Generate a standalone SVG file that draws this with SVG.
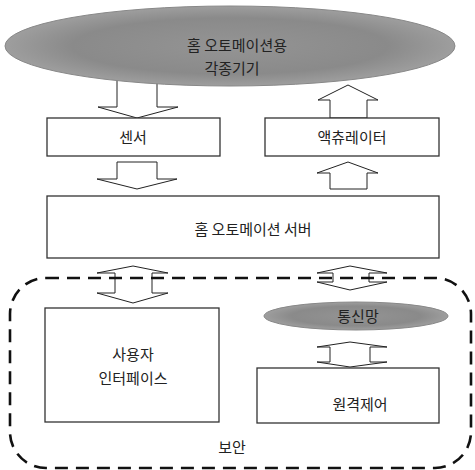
<svg xmlns="http://www.w3.org/2000/svg" width="475" height="470" viewBox="0 0 475 470">
<defs>
<radialGradient id="g" cx="0.5" cy="0.5" r="0.5">
<stop offset="0" stop-color="#949494"/>
<stop offset="0.7" stop-color="#8a8a8a"/>
<stop offset="1" stop-color="#9e9e9e"/>
</radialGradient>
<style>
.box{fill:#fff;stroke:#333;stroke-width:1.3}
.arr{fill:#fff;stroke:#222;stroke-width:1}
.ell{fill:url(#g);stroke:#888;stroke-width:1}
text{font-family:"Noto Sans CJK KR","Noto Sans",sans-serif;font-size:15px;fill:#222;text-anchor:middle}
.sec{fill:none;stroke:#111;stroke-width:2.6;stroke-dasharray:13 8}
</style>
</defs>
<rect width="475" height="470" fill="#fff"/>
<g id="connectors">
<polygon class="arr" points="117,70 157,70 157,107 178,107 137,118 98,107 117,107"/>
<polygon class="arr" points="348,85 378,100 367,100 367,118 330,118 330,100 318,100"/>
<polygon class="arr" points="117,162 157,162 157,179 177,179 137,189 97,179 117,179"/>
<polygon class="arr" points="348,162 378,173 367,173 367,189 330,189 330,173 317,173"/>
<polygon class="arr" points="133,266 168,273 152,273 152,293 168,293 133,303 97,293 115,293 115,273 97,273"/>
<polygon class="arr" points="350,266 387,273 369,273 369,282 387,282 350,290 317,282 333,282 333,273 317,273"/>
<polygon class="arr" points="350,342 387,347 370,347 370,362 387,362 350,367 317,362 330,362 330,347 317,347"/>
</g>
<g id="security">
<rect class="sec" x="10" y="278" width="461" height="190" rx="36" ry="36"/>
<text x="232" y="453">보안</text>
</g>
<g id="devices">
<ellipse class="ell" cx="230" cy="46" rx="225" ry="40"/>
<text x="237" y="51">홈 오토메이션용</text>
<text x="232" y="74">각종기기</text>
</g>
<g id="sensor">
<rect class="box" x="47" y="118" width="173" height="38"/>
<text x="133" y="143" font-size="16">센서</text>
</g>
<g id="actuator">
<rect class="box" x="265" y="118" width="174" height="38"/>
<text x="352" y="143" font-size="16">액츄레이터</text>
</g>
<g id="server">
<rect class="box" x="47" y="196" width="392" height="62"/>
<text x="253" y="235" font-size="16">홈 오토메이션 서버</text>
</g>
<g id="ui">
<rect class="box" x="45" y="308" width="174" height="114"/>
<text x="133" y="360" font-size="16">사용자</text>
<text x="133" y="384" font-size="16">인터페이스</text>
</g>
<g id="network">
<ellipse class="ell" cx="356" cy="316" rx="92" ry="14"/>
<text x="358" y="322">통신망</text>
</g>
<g id="remote">
<rect class="box" x="257" y="368" width="182" height="55"/>
<text x="360" y="410" font-size="16">원격제어</text>
</g>
</svg>
